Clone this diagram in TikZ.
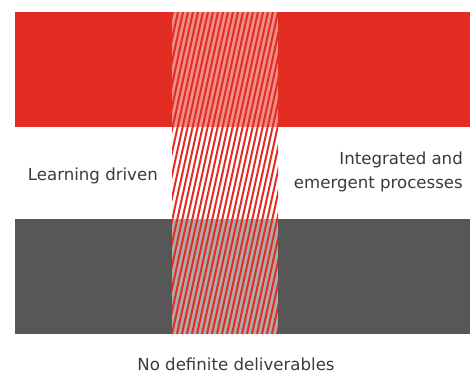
\documentclass[tikz,border=0pt]{standalone}
\usepackage{fontspec}
\setmainfont{DejaVu Sans}
\definecolor{bandred}{HTML}{E32D22}
\definecolor{bandgray}{HTML}{575757}
\definecolor{palered}{HTML}{EF8E89}
\definecolor{palegray}{HTML}{ABABAB}
\definecolor{txt}{HTML}{3A3A3A}
\tikzset{
  lbl/.style={inner sep=0pt, text=txt, font=\fontsize{16.6}{24}\selectfont},
  stripe/.style={draw=bandred, line width=2pt},
}
\begin{document}
\begin{tikzpicture}[x=1pt,y=-1pt]
\useasboundingbox (0,0) rectangle (470,383);
\fill[bandred] (15,12) rectangle (470,127);
\fill[bandgray] (15,219) rectangle (470,334);
\fill[palered] (172,12) rectangle (278,127);
\fill[palegray] (172,219) rectangle (278,334);
\begin{scope}
  \clip (172,12) rectangle (278,334);
  \foreach \i in {-16,...,22}
    \draw[stripe] ({172+\i*5},334) -- ++(71,-322);
\end{scope}
\node[lbl, anchor=east] (left) at (158,176) {Learning driven};
\node[lbl, anchor=east, align=right] (right) at (463,172) {Integrated and\\emergent processes};
\node[lbl] (bottom) at (236,364) {No definite deliverables};
\end{tikzpicture}
\end{document}
